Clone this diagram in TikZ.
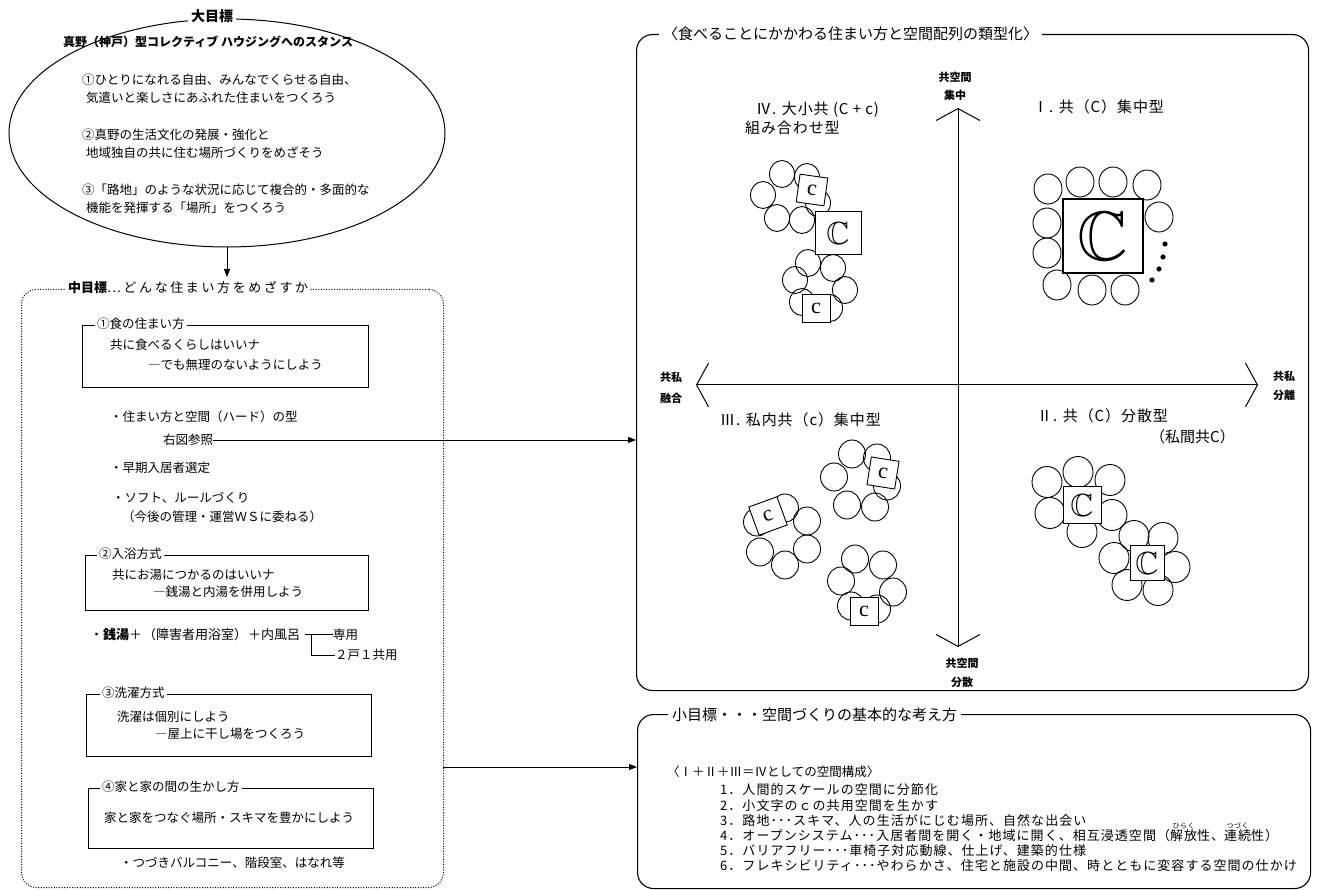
\documentclass[tikz,border=0pt]{standalone}
\usepackage{fontspec}
\setmainfont{Noto Sans CJK JP}
\newfontfamily\latf{Liberation Serif}
\newfontfamily\jpls{Noto Sans CJK JP}[LetterSpace=8]
\newfontfamily\jpq{Noto Sans CJK JP}[LetterSpace=6]
\newfontfamily\jpw{Noto Sans CJK JP}[LetterSpace=20]
\usepackage{amssymb}
\usetikzlibrary{arrows.meta,shapes.geometric}
\newcommand{\myruby}[2]{\leavevmode\setbox0\hbox{#1}\rlap{\hbox to \wd0{\hss\raisebox{0.95em}[0pt][0pt]{\fontsize{7}{7}\selectfont #2}\hss}}\box0}
\begin{document}
\begin{tikzpicture}[x=1pt,y=-1pt,
  every node/.style={inner sep=0pt},
  ft/.style={font=\fontsize{12.5}{14}\selectfont},
  lt/.style={ft, anchor=west},
  qt/.style={font=\fontsize{15}{17}\selectfont, anchor=west},
  qtt/.style={font=\jpq\fontsize{15}{17}\selectfont, anchor=west},
  ax/.style={font=\fontsize{11}{13}\selectfont\bfseries},
  bx/.style={draw, line width=1.2pt, anchor=north west},
  btitle/.style={lt, fill=white, inner xsep=2pt},
  arr/.style={line width=0.9pt, -{Triangle[length=8pt,width=6pt]}},
  hs/.style={line width=0.9pt},
  cb/.style={draw, fill=white, line width=0.9pt, minimum width=28pt, minimum height=28pt, font=\latf\fontsize{22}{22}\selectfont},
  Cb/.style={draw, fill=white, line width=1pt, font=\fontsize{32}{32}\selectfont},
  rb/.style={draw, line width=1.1pt, rounded corners=16pt, anchor=north west},
  axis/.style={line width=1pt, {Straight Barb[length=12pt,width=44pt,line width=1pt]}-{Straight Barb[length=12pt,width=44pt,line width=1pt]}}
]
\useasboundingbox (0,0) rectangle (1318,890);

% ---------- big goal ellipse ----------
\node[draw, ellipse, line width=1pt, minimum width=436pt, minimum height=228pt] (big) at (227,133) {};
\node[fill=white, inner xsep=3pt, font=\fontsize{14}{16}\selectfont\bfseries] (bigt) at (212,16) {大目標};
\node[lt, font=\fontsize{12}{14}\selectfont\bfseries] (stance) at (63,42) {真野（神戸）型コレクティブ ハウジングへのスタンス};
\node[lt] (g1a) at (82,80) {①ひとりになれる自由、みんなでくらせる自由、};
\node[lt] (g1b) at (86,98) {気遣いと楽しさにあふれた住まいをつくろう};
\node[lt] (g2a) at (82,135) {②真野の生活文化の発展・強化と};
\node[lt] (g2b) at (86,153) {地域独自の共に住む場所づくりをめざそう};
\node[lt] (g3a) at (82,190) {③「路地」のような状況に応じて複合的・多面的な};
\node[lt] (g3b) at (86,208) {機能を発揮する「場所」をつくろう};
\coordinate (atip) at (227,277);
\draw[arr] (big.south) -- (atip);

% ---------- middle goal dotted box ----------
\node[draw, line width=1pt, dash pattern=on 1pt off 1.6pt, rounded corners=15pt, minimum width=422pt, minimum height=598pt, anchor=north west] (mid) at (21,289) {};
\node[lt, fill=white, inner xsep=2pt, font=\fontsize{13}{15}\selectfont] (midt) at (66,288) {{\bfseries 中目標}{\jpw …どんな住まい方をめざすか}};

\node[bx, minimum width=286pt, minimum height=62pt] (b1) at (82,325) {};
\node[btitle] (b1t) at (95,324) {①食の住まい方};
\node[lt] (b1a) at (110,345) {共に食べるくらしはいいナ};
\node[lt] (b1b) at (148,365) {―でも無理のないようにしよう};
\node[lt] (p1) at (110,417) {・住まい方と空間（ハード）の型};
\node[lt] (ref) at (163,440) {右図参照};
\node[lt] (p2) at (110,468) {・早期入居者選定};
\node[lt] (p3) at (112,498) {・ソフト、ルールづくり};
\node[lt] (p3b) at (122,517) {（今後の管理・運営ＷＳに委ねる）};

\node[bx, minimum width=283pt, minimum height=55pt] (b2) at (85,555) {};
\node[btitle] (b2t) at (97,554) {②入浴方式};
\node[lt] (b2a) at (112,575) {共にお湯につかるのはいいナ};
\node[lt] (b2b) at (153,592) {―銭湯と内湯を併用しよう};
\node[lt, font=\fontsize{13}{14}\selectfont] (sento) at (90,635) {・{\bfseries 銭湯}＋\hspace{1pt}（障害者用浴室）\hspace{1pt}＋内風呂};
\node[lt] (sen) at (333,635) {専用};
\node[lt] (kyo) at (335,655) {２戸１共用};
\coordinate (br) at ([xshift=5pt,yshift=1pt]sento.east);
\coordinate (brv) at ([xshift=11pt,yshift=1pt]sento.east);
\draw[hs] (br) -- (br -| sen.west);
\draw[hs] (brv) |- (kyo.west);

\node[bx, minimum width=285pt, minimum height=62pt] (b3) at (86,694) {};
\node[btitle] (b3t) at (100,693) {③洗濯方式};
\node[lt] (b3a) at (117,717) {洗濯は個別にしよう};
\node[lt] (b3b) at (155,734) {―屋上に干し場をつくろう};

\node[bx, minimum width=285pt, minimum height=60pt] (b4) at (88,788) {};
\node[btitle] (b4t) at (100,787) {④家と家の間の生かし方};
\node[lt] (b4a) at (104,818) {家と家をつなぐ場所・スキマを豊かにしよう};
\node[lt] (p4) at (120,863) {・つづきバルコニー、階段室、はなれ等};

% ---------- right typology box ----------
\node[rb, minimum width=672pt, minimum height=656pt] (rbox) at (636,34) {};
\node[qt, fill=white, inner xsep=4pt] (rt) at (659,34) {〈食べることにかかわる住まい方と空間配列の類型化〉};

\draw[arr] (ref.east) -- (ref.east -| rbox.west);

\coordinate (vt) at (958,108);
\coordinate (vb) at (958,647);
\coordinate (hl) at (696,385);
\coordinate (hr) at (1258,385);
\draw[axis] (vb) -- (vt);
\draw[axis] (hl) -- (hr);
\node[ax] (ax1) at (955,77) {共空間};
\node[ax] (ax2) at (955,95) {集中};
\node[ax] (ax3) at (962,663) {共空間};
\node[ax] (ax4) at (962,682) {分散};
\node[ax] (ax5) at (671,377) {共私};
\node[ax] (ax6) at (671,398) {融合};
\node[ax] (ax7) at (1284,376) {共私};
\node[ax] (ax8) at (1284,395) {分離};

\node[qtt] (q4a) at (756,110) {Ⅳ. 大小共 (C + c)};
\node[qtt] (q4b) at (745,128) {組み合わせ型};
\node[qtt] (q1) at (1033,107) {Ⅰ. 共（C）集中型};
\node[qtt] (q3) at (720,420) {Ⅲ. 私内共（c）集中型};
\node[qtt] (q2) at (1037,416) {Ⅱ. 共（C）分散型};
\node[qt] (q2b) at (1150,437) {（私間共C）};

% quadrant IV
\foreach \x/\y in {782/174,763/195,777/218,802/220,807/177,818/203,808/263,833/268,795/280,845/290,802/302,830/308}
  \draw[hs] (\x,\y) ellipse [x radius=12.5pt, y radius=13.5pt];
\node[cb, rotate=-8] (c4a) at (812,190) {c};
\node[Cb, minimum width=46pt, minimum height=43pt] (C4) at (838,233) {$\mathbb{C}$};
\node[cb] (c4b) at (816,308) {c};

% quadrant I
\foreach \x/\y in {1048/189,1080/182,1113/182,1147/185,1159/217,1047/223,1047/253,1057/285,1092/290,1125/290}
  \draw[hs] (\x,\y) ellipse [x radius=14pt, y radius=15pt];
\node[Cb, line width=1.2pt, minimum width=80pt, minimum height=74pt, font=\fontsize{70}{70}\selectfont] (C1) at (1103,236) {$\mathbb{C}$};
\foreach \x/\y in {1165/244,1163/257,1159/269,1152/280}
  \fill (\x,\y) circle [radius=2.6pt];

% quadrant III
\foreach \x/\y in {852/454,877/458,834/477,847/505,875/507,887/486,
                   757/522,785/508,807/521,760/552,785/565,807/549,
                   855/559,883/565,841/581,893/592,851/606,877/609}
  \draw[hs] (\x,\y) ellipse [x radius=13.5pt, y radius=14pt];
\node[cb, rotate=-9] (c3a) at (883,473) {c};
\node[cb, rotate=20, minimum width=30pt, minimum height=30pt] (c3b) at (768,516) {c};
\node[cb] (c3c) at (864,611) {c};

% quadrant II
\foreach \x/\y in {1047/482,1078/472,1110/480,1050/513,1112/515,1082/532,
                   1134/536,1163/538,1114/558,1175/567,1127/585,1158/590}
  \draw[hs] (\x,\y) ellipse [x radius=15pt, y radius=15.5pt];
\node[Cb, minimum width=38pt, minimum height=36pt] (C2a) at (1082,505) {$\mathbb{C}$};
\node[Cb, minimum width=34pt, minimum height=35pt] (C2b) at (1147,563) {$\mathbb{C}$};

% ---------- small goal box ----------
\node[rb, minimum width=673pt, minimum height=174pt] (sbox) at (637,714) {};
\node[qt, fill=white, inner xsep=4pt] (st) at (668,715) {小目標・・・空間づくりの基本的な考え方};
\coordinate (la) at (443,767);
\draw[arr] (la) -- (la -| sbox.west);
\node[lt] (s0) at (667,772) {〈Ⅰ＋Ⅱ＋Ⅲ＝Ⅳとしての空間構成〉};
\node[lt, font=\jpls\fontsize{13}{14}\selectfont] (s1) at (720,790) {1．人間的スケールの空間に分節化};
\node[lt, font=\jpls\fontsize{13}{14}\selectfont] (s2) at (720,806) {2．小文字のｃの共用空間を生かす};
\node[lt, font=\jpls\fontsize{13}{14}\selectfont] (s3) at (720,821) {3．路地･･･スキマ、人の生活がにじむ場所、自然な出会い};
\node[lt, font=\jpls\fontsize{13}{14}\selectfont] (s4) at (720,836) {4．オープンシステム･･･入居者間を開く・地域に開く、相互浸透空間（\myruby{解放}{ひらく}性、\myruby{連続}{つづく}性）};
\node[lt, font=\jpls\fontsize{13}{14}\selectfont] (s5) at (720,851) {5．バリアフリー･･･車椅子対応動線、仕上げ、建築的仕様};
\node[lt, font=\jpls\fontsize{13}{14}\selectfont] (s6) at (720,866) {6．フレキシビリティ･･･やわらかさ、住宅と施設の中間、時とともに変容する空間の仕かけ};
\end{tikzpicture}
\end{document}
